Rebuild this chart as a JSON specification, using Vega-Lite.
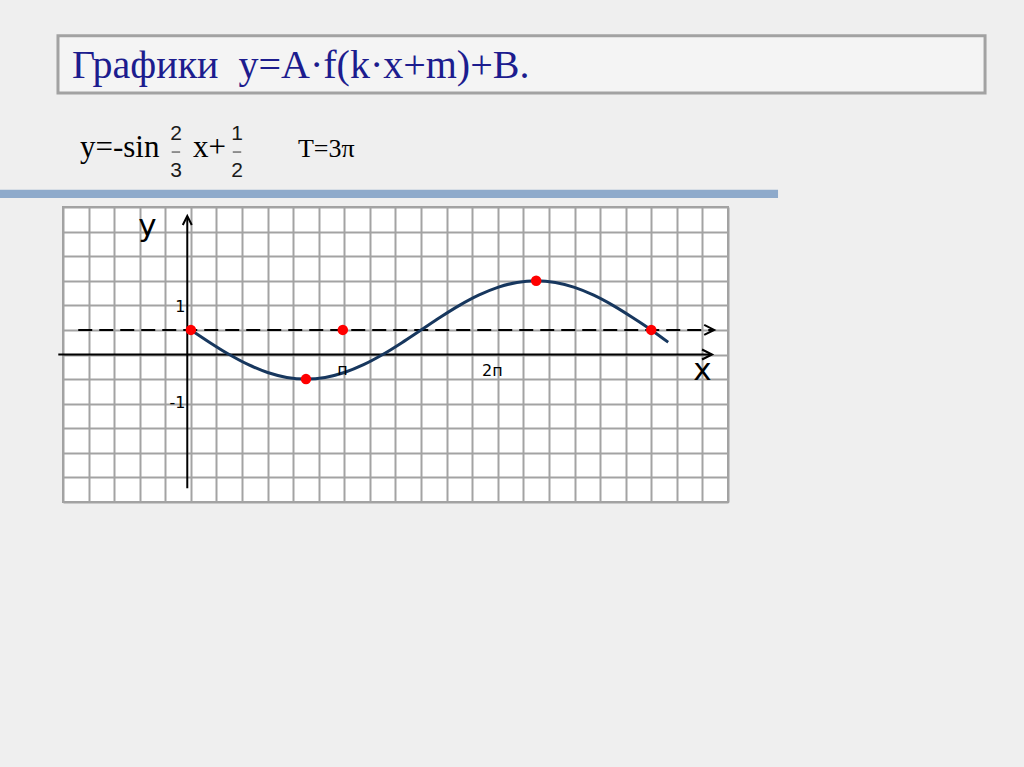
{
  "$schema": "https://vega.github.io/schema/vega-lite/v6.json",
  "width": 665,
  "height": 295,
  "autosize": {"type": "none"},
  "padding": {"left": 63, "top": 207, "right": 296, "bottom": 265},
  "background": "#efefef",
  "config": {
    "view": {"fill": "#ffffff", "stroke": "#a0a0a0", "strokeWidth": 2},
    "axis": {"labels": false, "ticks": false, "domain": false, "title": null, "grid": true, "gridColor": "#a3a3a3", "gridWidth": 2, "gridOpacity": 1, "tickCount": 100}
  },
  "datasets": {
    "curve": [
      {"x": 0, "y": 0.5}, {"x": 0.125, "y": 0.2412}, {"x": 0.25, "y": 0}, {"x": 0.375, "y": -0.2071},
      {"x": 0.5, "y": -0.366}, {"x": 0.625, "y": -0.4659}, {"x": 0.75, "y": -0.5}, {"x": 0.875, "y": -0.4659},
      {"x": 1, "y": -0.366}, {"x": 1.125, "y": -0.2071}, {"x": 1.25, "y": 0}, {"x": 1.375, "y": 0.2412},
      {"x": 1.5, "y": 0.5}, {"x": 1.625, "y": 0.7588}, {"x": 1.75, "y": 1}, {"x": 1.875, "y": 1.2071},
      {"x": 2, "y": 1.366}, {"x": 2.125, "y": 1.4659}, {"x": 2.25, "y": 1.5}, {"x": 2.375, "y": 1.4659},
      {"x": 2.5, "y": 1.366}, {"x": 2.625, "y": 1.2071}, {"x": 2.75, "y": 1}, {"x": 2.875, "y": 0.7588},
      {"x": 3, "y": 0.5}, {"x": 3.11, "y": 0.25}
    ],
    "points": [
      {"x": 0, "y": 0.5}, {"x": 0.75, "y": -0.5}, {"x": 0.99, "y": 0.5}, {"x": 2.25, "y": 1.5}, {"x": 3.0, "y": 0.5}
    ],
    "ticklabels": [
      {"label": "1", "x": -0.035, "y": 0.86},
      {"label": "-1", "x": -0.035, "y": -1.09}
    ],
    "pilabels": [
      {"label": "п", "x": 0.988, "y": -0.42},
      {"label": "2п", "x": 1.965, "y": -0.44}
    ]
  },
  "layer": [
    {
      "data": {"values": [{}]},
      "mark": {"type": "rect", "fill": "#f4f4f4", "stroke": "#a2a2a2", "strokeWidth": 3},
      "encoding": {
        "x": {"datum": -0.866, "type": "quantitative", "scale": {"domain": [-0.83333, 3.5], "nice": false, "zero": false},
              "axis": {"tickCount": 100, "values": [-0.83333, -0.66667, -0.5, -0.33333, -0.16667, 0, 0.16667, 0.33333, 0.5, 0.66667, 0.83333, 1, 1.16667, 1.33333, 1.5, 1.66667, 1.83333, 2, 2.16667, 2.33333, 2.5, 2.66667, 2.83333, 3, 3.16667, 3.33333, 3.5]}},
        "x2": {"datum": 5.175},
        "y": {"datum": 6.484, "type": "quantitative", "scale": {"domain": [-3, 3], "nice": false, "zero": false},
              "axis": {"tickCount": 100, "values": [-3, -2.5, -2, -1.5, -1, -0.5, 0, 0.5, 1, 1.5, 2, 2.5, 3]}},
        "y2": {"datum": 5.318}
      }
    },
    {
      "data": {"values": [{}]},
      "mark": {"type": "text", "text": "Графики\u00a0\u00a0y=A·f(k·x+m)+B.", "font": "Liberation Serif", "fontSize": 40, "fill": "#1c1c8e", "align": "left", "baseline": "alphabetic"},
      "encoding": {"x": {"datum": -0.775, "type": "quantitative"}, "y": {"datum": 5.617, "type": "quantitative"}}
    },
    {
      "data": {"values": [{}]},
      "mark": {"type": "text", "text": "y=-sin", "font": "Liberation Serif", "fontSize": 31, "fill": "#000000", "align": "left", "baseline": "alphabetic"},
      "encoding": {"x": {"datum": -0.7227, "type": "quantitative"}, "y": {"datum": 4.0167, "type": "quantitative"}}
    },
    {
      "data": {"values": [{}]},
      "mark": {"type": "text", "text": "x+", "font": "Liberation Serif", "fontSize": 31, "fill": "#000000", "align": "left", "baseline": "alphabetic"},
      "encoding": {"x": {"datum": 0.0137, "type": "quantitative"}, "y": {"datum": 4.0167, "type": "quantitative"}}
    },
    {
      "data": {"values": [{}]},
      "mark": {"type": "text", "text": "T=3π", "font": "Liberation Serif", "fontSize": 26, "fill": "#000000", "align": "left", "baseline": "alphabetic"},
      "encoding": {"x": {"datum": 0.6979, "type": "quantitative"}, "y": {"datum": 4.0167, "type": "quantitative"}}
    },
    {
      "data": {"values": [{"t": "2", "x": -0.0971, "y": 4.3624}, {"t": "3", "x": -0.0971, "y": 3.6099}, {"t": "1", "x": 0.3004, "y": 4.3624}, {"t": "2", "x": 0.3004, "y": 3.6099}]},
      "mark": {"type": "text", "font": "Liberation Sans", "fontSize": 21, "fill": "#1a1a1a", "align": "center", "baseline": "alphabetic"},
      "encoding": {"x": {"field": "x", "type": "quantitative"}, "y": {"field": "y", "type": "quantitative"}, "text": {"field": "t"}}
    },
    {
      "data": {"values": [{"x": -0.125, "x2": -0.07}, {"x": 0.273, "x2": 0.328}]},
      "mark": {"type": "rule", "stroke": "#333333", "strokeWidth": 1},
      "encoding": {"x": {"field": "x", "type": "quantitative"}, "x2": {"field": "x2"}, "y": {"datum": 4.118, "type": "quantitative"}}
    },
    {
      "data": {"values": [{}]},
      "mark": {"type": "rect", "fill": "#8eaacb"},
      "encoding": {"x": {"datum": -1.244, "type": "quantitative"}, "x2": {"datum": 3.826}, "y": {"datum": 3.35, "type": "quantitative"}, "y2": {"datum": 3.183}}
    },
    {
      "data": {"values": [{}]},
      "mark": {"type": "rule", "stroke": "#000000", "strokeWidth": 2},
      "encoding": {"x": {"datum": -0.864, "type": "quantitative"}, "x2": {"datum": 3.39}, "y": {"datum": 0, "type": "quantitative"}}
    },
    {
      "data": {"values": [{}]},
      "mark": {"type": "rule", "stroke": "#000000", "strokeWidth": 2, "strokeDash": [14, 7]},
      "encoding": {"x": {"datum": -0.734, "type": "quantitative"}, "x2": {"datum": 3.40}, "y": {"datum": 0.5, "type": "quantitative"}}
    },
    {
      "data": {"values": [{}]},
      "mark": {"type": "rule", "stroke": "#000000", "strokeWidth": 2},
      "encoding": {"x": {"datum": -0.0235, "type": "quantitative"}, "y": {"datum": -2.72, "type": "quantitative"}, "y2": {"datum": 2.8}}
    },
    {
      "data": {"values": [{"x": 3.396, "y": 0}, {"x": 3.41, "y": 0.5}]},
      "mark": {"type": "point", "shape": "M-1,-0.5L0,0L-1,0.5", "size": 400, "filled": false, "stroke": "#000000", "strokeWidth": 2, "opacity": 1},
      "encoding": {"x": {"field": "x", "type": "quantitative"}, "y": {"field": "y", "type": "quantitative"}}
    },
    {
      "data": {"values": [{}]},
      "mark": {"type": "point", "shape": "M-0.5,1L0,0L0.5,1", "size": 324, "filled": false, "stroke": "#000000", "strokeWidth": 2, "opacity": 1},
      "encoding": {"x": {"datum": -0.0235, "type": "quantitative"}, "y": {"datum": 2.817, "type": "quantitative"}}
    },
    {
      "data": {"name": "curve"},
      "mark": {"type": "line", "stroke": "#17375e", "strokeWidth": 3, "interpolate": "monotone"},
      "encoding": {"x": {"field": "x", "type": "quantitative"}, "y": {"field": "y", "type": "quantitative"}}
    },
    {
      "data": {"name": "points"},
      "mark": {"type": "circle", "fill": "#ff0000", "size": 110, "opacity": 1},
      "encoding": {"x": {"field": "x", "type": "quantitative"}, "y": {"field": "y", "type": "quantitative"}}
    },
    {
      "data": {"name": "ticklabels"},
      "mark": {"type": "text", "font": "DejaVu Sans", "fontSize": 16, "fill": "#000000", "align": "right", "baseline": "alphabetic"},
      "encoding": {"x": {"field": "x", "type": "quantitative"}, "y": {"field": "y", "type": "quantitative"}, "text": {"field": "label"}}
    },
    {
      "data": {"name": "pilabels"},
      "mark": {"type": "text", "font": "DejaVu Sans", "fontSize": 16, "fill": "#000000", "align": "center", "baseline": "alphabetic"},
      "encoding": {"x": {"field": "x", "type": "quantitative"}, "y": {"field": "y", "type": "quantitative"}, "text": {"field": "label"}}
    },
    {
      "data": {"values": [{"t": "y", "x": -0.283, "y": 2.42}, {"t": "x", "x": 3.334, "y": -0.519}]},
      "mark": {"type": "text", "font": "DejaVu Sans", "fontSize": 31, "fill": "#000000", "align": "center", "baseline": "alphabetic"},
      "encoding": {"x": {"field": "x", "type": "quantitative"}, "y": {"field": "y", "type": "quantitative"}, "text": {"field": "t"}}
    }
  ]
}
